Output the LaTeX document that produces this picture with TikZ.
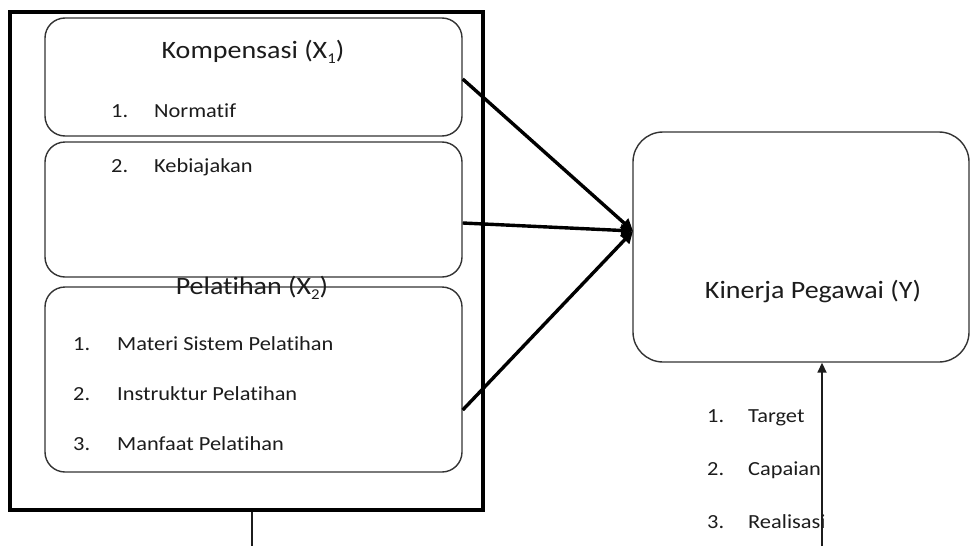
\documentclass[tikz,border=0pt]{standalone}
\usepackage{fontspec}
\setmainfont{Carlito}[FakeStretch=1.12,RawFeature={-liga;-clig;-dlig}]
\usetikzlibrary{arrows.meta,calc}
\definecolor{ink}{HTML}{1C1C1C}
\definecolor{edge}{HTML}{333333}
\newcommand\lowidx[1]{\raisebox{-0.2em}{\fontsize{15}{15}\selectfont #1}}
\begin{document}
\begin{tikzpicture}[x=1pt,y=-1pt,
  frame/.style={draw=black,line width=3.2pt,inner sep=0pt},
  itembox/.style={draw=edge,line width=1.4pt,rounded corners=20pt,inner sep=0pt,fill=white},
  resbox/.style={draw=edge,line width=1.4pt,rounded corners=30pt,inner sep=0pt,fill=white},
  head/.style={inner sep=0pt,anchor=base,text=ink,font=\fontsize{25}{30}\selectfont},
  num/.style={inner sep=0pt,anchor=base west,text=ink,font=\fontsize{20}{24}\selectfont},
  item/.style={inner sep=0pt,anchor=base west,text=ink,font=\fontsize{20}{24}\selectfont},
  bold arrow/.style={line width=3.4pt,-{Triangle[length=12pt,width=12pt]}},
  thin arrow/.style={line width=1.7pt,draw=ink,-{Triangle[length=10pt,width=9pt]}}]
\useasboundingbox (0,0) rectangle (971,546);

% outer frame round the two independent variables
\node[frame,minimum width=473pt,minimum height=498pt] (frame) at (246.5,261) {};

% Kompensasi box (split in two parts)
\node[itembox,minimum width=417pt,minimum height=118pt] (box1) at (253.5,77) {};
\node[itembox,minimum width=417pt,minimum height=135pt] (box2) at (253.5,209.5) {};
% Pelatihan box
\node[itembox,minimum width=417pt,minimum height=185pt] (box3) at (253.5,379.5) {};

% dependent variable
\node[resbox,minimum width=336pt,minimum height=230pt] (kin) at (801,247) {};

% texts of the Kompensasi box
\node[head] (t1) at (253,58) {Kompensasi (X\lowidx{1})};
\node[num] (n11) at (111,117) {1.};
\node[item] (i11) at (154,117) {Normatif};
\node[num] (n12) at (111,172) {2.};
\node[item] (i12) at (154,172) {Kebiajakan};

% texts of the Pelatihan box
\node[head] (t2) at (252,294) {Pelatihan (X\lowidx{2})};
\node[num] (n21) at (73,350) {1.};
\node[item] (i21) at (117,350) {Materi Sistem Pelatihan};
\node[num] (n22) at (73,400) {2.};
\node[item] (i22) at (117,400) {Instruktur Pelatihan};
\node[num] (n23) at (73,450) {3.};
\node[item] (i23) at (117,450) {Manfaat Pelatihan};

% texts of the Kinerja box
\node[head] (ty) at (813,298) {Kinerja Pegawai (Y)};
\node[num] (n31) at (707,422) {1.};
\node[item] (i31) at (748,422) {Target};
\node[num] (n32) at (707,475) {2.};
\node[item] (i32) at (748,475) {Capaian};
\node[num] (n33) at (707,528) {3.};
\node[item] (i33) at (748,528) {Realisasi};

% connectors
\coordinate (tip) at (633,231);
\draw[bold arrow] ($(box1.east)+(0,2)$) -- (tip);
\draw[bold arrow] ($(box2.east)+(0,13.5)$) -- (tip);
\draw[bold arrow] ($(box3.east)+(0,30.5)$) -- (tip);

\coordinate (ybase) at (822,546);
\draw[thin arrow] (ybase) -- (ybase |- kin.south);

\coordinate (xbase) at (252,546);
\draw[line width=1.6pt,draw=ink] (frame.south -| xbase) -- (xbase);
\end{tikzpicture}
\end{document}
